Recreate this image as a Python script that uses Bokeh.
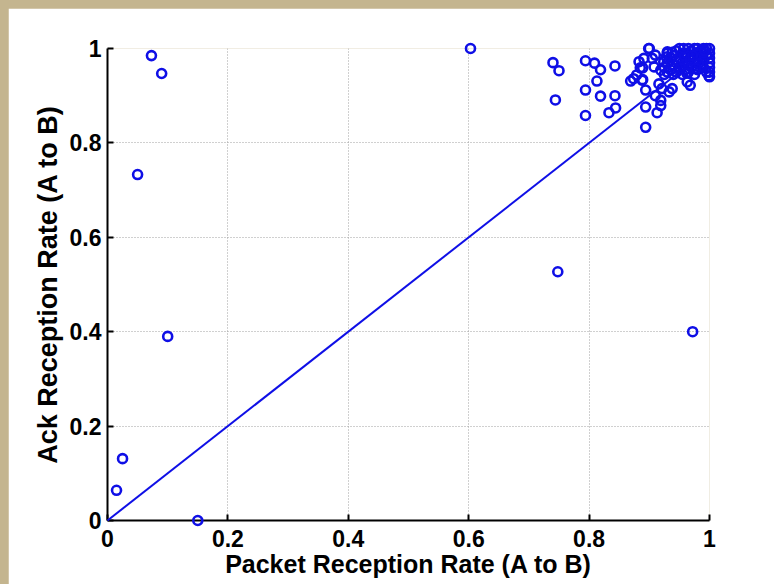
from bokeh.plotting import figure
from bokeh.models import Range1d, FixedTicker
from bokeh.layouts import column
from bokeh.embed import file_html
from bokeh.resources import INLINE

# Packet reception rate (A to B) vs. ack reception rate (A to B) per link
packet_rate = [
    0.073, 0.090, 0.050, 0.100, 0.025, 0.015, 0.150, 0.603, 0.748, 0.972,
    0.740, 0.750, 0.744, 0.794, 0.809, 0.819, 0.843, 0.813, 0.794, 0.819,
    0.843, 0.844, 0.833, 0.794, 0.869, 0.879, 0.889, 0.894, 0.894, 0.894,
    0.913, 0.919, 0.919, 0.910, 0.916, 0.921, 0.933, 0.938, 0.963, 0.968,
    0.900, 0.889, 0.874, 0.888, 0.885, 0.899, 0.905, 0.908, 0.999, 0.919,
    0.924, 0.930, 0.910, 0.891, 0.883,
    0.930, 0.940, 0.945, 0.950, 0.955, 0.960, 0.965, 0.970, 0.975, 0.980,
    0.985, 0.990, 0.995, 1.000, 1.000, 1.000, 1.000, 1.000, 1.000, 0.995,
    0.990, 0.985, 0.980, 0.975, 0.970, 0.965, 0.960, 0.955, 0.950, 0.945,
    0.940, 0.935, 0.930, 0.925, 0.935, 0.945, 0.955, 0.965, 0.975, 0.985,
    0.990, 0.995, 0.970, 0.960, 0.980, 0.990, 0.950, 0.940, 0.925, 0.930,
    1.000, 0.938, 0.948, 0.958, 0.968, 0.978, 0.988, 0.952, 0.962, 0.972,
    0.982, 0.992, 0.942, 0.928, 0.957, 0.977,
]
ack_rate = [
    0.985, 0.947, 0.733, 0.390, 0.131, 0.064, 0.000, 1.000, 0.527, 0.400,
    0.970, 0.953, 0.891, 0.974, 0.969, 0.955, 0.963, 0.931, 0.912, 0.899,
    0.900, 0.874, 0.864, 0.858, 0.931, 0.944, 0.934, 0.912, 0.876, 0.833,
    0.864, 0.879, 0.890, 0.900, 0.925, 0.915, 0.908, 0.915, 0.929, 0.922,
    1.000, 0.959, 0.936, 0.933, 0.959, 1.000, 0.979, 0.961, 0.942, 0.954,
    0.972, 0.993, 0.986, 0.979, 0.972,
    0.990, 0.985, 0.995, 1.000, 0.990, 0.980, 1.000, 0.995, 1.000, 1.000,
    0.995, 1.000, 1.000, 1.000, 0.990, 0.980, 0.970, 0.960, 0.950, 0.985,
    0.975, 0.965, 0.955, 0.970, 0.980, 0.965, 0.955, 0.970, 0.960, 0.975,
    0.965, 0.955, 0.970, 0.960, 0.980, 0.950, 0.945, 0.950, 0.945, 0.985,
    0.960, 0.950, 0.960, 0.990, 0.975, 0.990, 0.980, 0.945, 0.945, 0.950,
    0.940, 0.992, 0.972, 0.985, 0.975, 0.988, 0.962, 0.958, 0.948, 0.985,
    0.968, 0.995, 0.958, 0.982, 1.000, 0.958,
]

# Reference diagonal (equal rates)
diag_x = [0.0, 1.0]
diag_y = [0.0, 1.0]

ticks = [0, 0.2, 0.4, 0.6, 0.8, 1]
tick_labels = {0: "0", 0.2: "0.2", 0.4: "0.4", 0.6: "0.6", 0.8: "0.8", 1: "1"}

BLUE = "#0f0fe6"
FONT = "Liberation Sans"

p = figure(
    width=766, height=576,
    x_range=Range1d(0, 1), y_range=Range1d(0, 1),
    output_backend="svg", toolbar_location=None,
    min_border_left=99, min_border_right=65,
    min_border_top=40, min_border_bottom=64,
    background_fill_color="white", border_fill_color="white",
    outline_line_color=None,
)

p.line(diag_x, diag_y, line_color=BLUE, line_width=2, level="overlay")
p.scatter(packet_rate, ack_rate, marker="circle", size=9,
          fill_color=None, line_color=BLUE, line_width=2.6, level="overlay")

for ax in (p.xaxis[0], p.yaxis[0]):
    ax.ticker = FixedTicker(ticks=ticks)
    ax.major_label_overrides = tick_labels
    ax.axis_line_width = 2
    ax.axis_line_color = "black"
    ax.major_tick_line_width = 2
    ax.major_tick_line_color = "black"
    ax.major_tick_in = 6
    ax.major_tick_out = 0
    ax.minor_tick_line_color = None
    ax.major_label_text_font = FONT
    ax.major_label_text_font_style = "bold"
    ax.major_label_text_font_size = "23px"
    ax.major_label_text_color = "black"
    ax.axis_label_text_font = FONT
    ax.axis_label_text_font_style = "bold"
    ax.axis_label_text_color = "black"

p.xaxis.axis_label = "Packet Reception Rate (A to B)"
p.yaxis.axis_label = "Ack Reception Rate (A to B)"
p.xaxis.axis_label_text_font_size = "25px"
p.yaxis.axis_label_text_font_size = "27px"
p.xaxis.major_label_standoff = 9
p.yaxis.major_label_standoff = 6
p.xaxis.axis_label_standoff = 0
p.yaxis.axis_label_standoff = 4

p.grid.grid_line_color = "#a0a0a0"
p.grid.grid_line_dash = "1 2"
p.grid.grid_line_width = 1

layout = column(p, styles={"background-color": "#c4b58f",
                           "padding": "8px 0px 0px 8px"})

open("out.html", "w").write(file_html(layout, INLINE))
